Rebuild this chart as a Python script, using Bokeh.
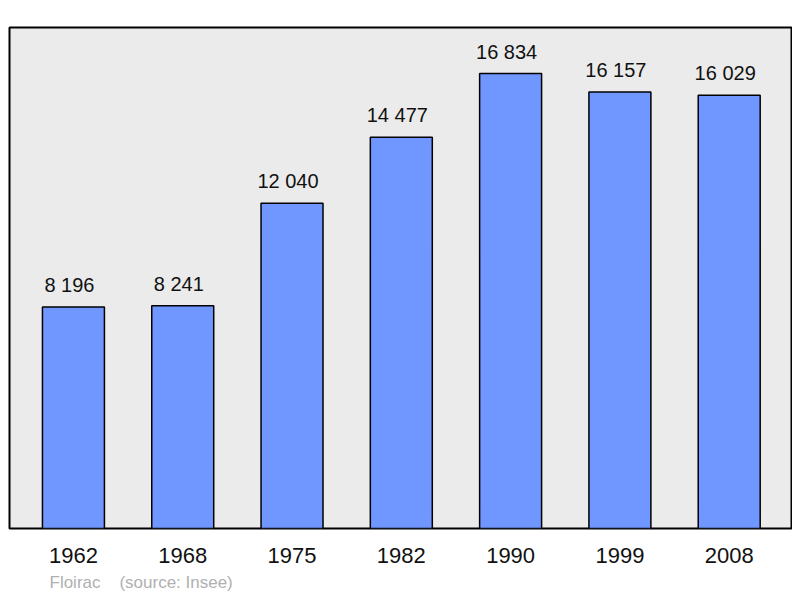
from bokeh.plotting import figure
from bokeh.models import Range1d, FixedTicker, Title, ColumnDataSource
from bokeh.core.properties import value
from bokeh.embed import file_html
from bokeh.resources import INLINE

years = ["1962", "1968", "1975", "1982", "1990", "1999", "2008"]
population = [8196, 8241, 12040, 14477, 16834, 16157, 16029]
value_labels = ["8 196", "8 241", "12 040", "14 477", "16 834", "16 157", "16 029"]
town = "Floirac"
source_note = "(source: Insee)"

idx = list(range(len(years)))
src = ColumnDataSource(dict(x=idx, top=population, lab=value_labels))

p = figure(frame_width=782, frame_height=501, output_backend="svg", toolbar_location=None,
           x_range=Range1d(-0.585, 6.57), y_range=Range1d(0, 18540),
           min_border_left=9, min_border_right=1, min_border_top=27, min_border_bottom=0)
p.background_fill_color = "#ebebeb"
p.border_fill_color = "white"
p.outline_line_color = "black"
p.outline_line_width = 2
p.grid.visible = False
p.yaxis.visible = False

p.vbar(x="x", top="top", bottom=0, width=0.567, source=src,
       fill_color="#7096ff", line_color="black", line_width=1.5)
p.text(x="x", y="top", text="lab", source=src, text_align="center",
       text_baseline="alphabetic", x_offset=-4, y_offset=-22, text_font=value("Liberation Sans"),
       text_font_size="20px", text_color="#111111")

ax = p.xaxis[0]
ax.ticker = FixedTicker(ticks=idx)
ax.major_label_overrides = {i: y for i, y in zip(idx, years)}
ax.axis_line_color = None
ax.major_tick_line_color = None
ax.minor_tick_line_color = None
ax.major_tick_out = 0
ax.major_tick_in = 0
ax.major_label_standoff = 19
ax.major_label_text_font = "Liberation Sans"
ax.major_label_text_font_size = "22px"
ax.major_label_text_color = "#111111"

note = town + "\u00a0" * 4 + source_note
p.add_layout(Title(text=note, align="left", offset=40, standoff=10,
                   text_font="Liberation Sans", text_font_size="17px",
                   text_font_style="normal", text_color="#b0b0b0"), "below")

open("out.html", "w").write(file_html(p, INLINE))
